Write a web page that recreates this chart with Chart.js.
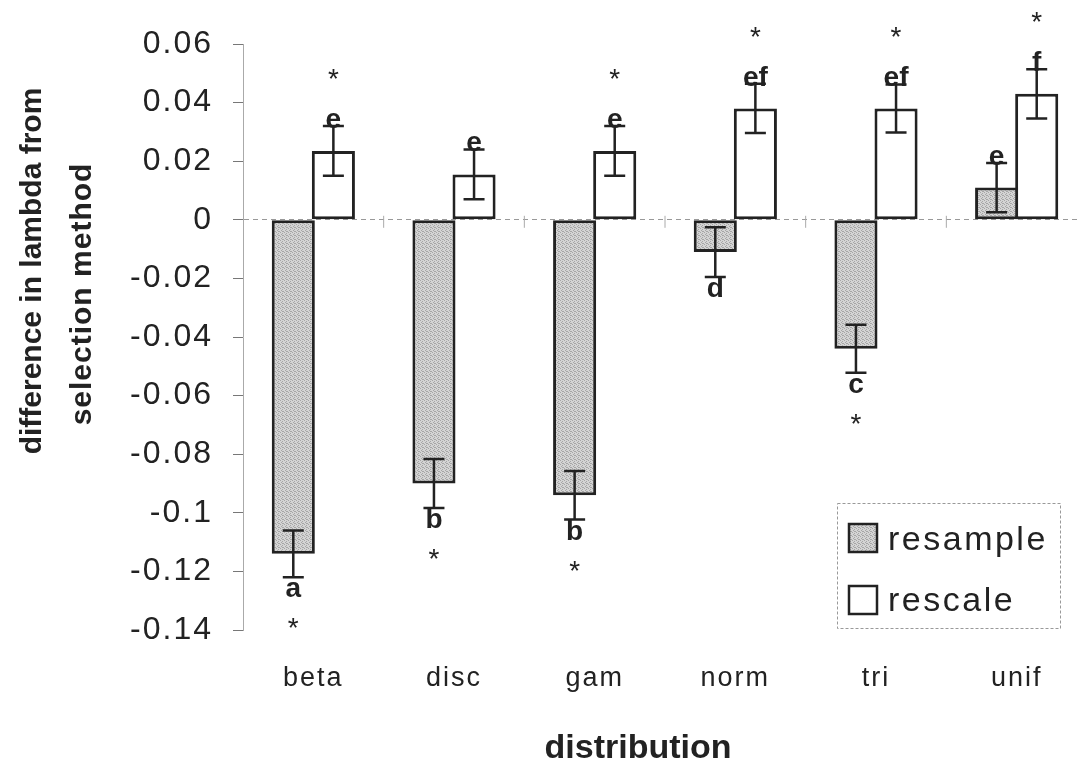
<!DOCTYPE html>
<html>
<head>
<meta charset="utf-8">
<script src="https://cdn.jsdelivr.net/npm/chart.js@4.4.0/dist/chart.umd.min.js"></script>
<style>
  html, body { margin: 0; padding: 0; background: #fff; overflow: hidden; }
  #chart { display: block; }
</style>
</head>
<body>
<canvas id="chart" width="1090" height="764"></canvas>
<script>
// Distributions on the x axis
const distributions = ['beta', 'disc', 'gam', 'norm', 'tri', 'unif'];

// Mean difference in lambda for each selection method
const resampleValues = [-0.114, -0.090, -0.094, -0.011, -0.044, 0.011];
const rescaleValues = [0.0235, 0.0155, 0.0235, 0.038, 0.038, 0.043];

// Half length of each error bar
const resampleErrors = [0.008, 0.0084, 0.0083, 0.0085, 0.0082, 0.0084];
const rescaleErrors = [0.0085, 0.0085, 0.0085, 0.0084, 0.0082, 0.0084];

// Group letters and significance stars above / below the bars
const resampleLetters = ['a', 'b', 'b', 'd', 'c', 'e'];
const rescaleLetters = ['e', 'e', 'e', 'ef', 'ef', 'f'];
const resampleStars = [true, true, true, false, true, false];
const rescaleStars = [true, false, true, true, true, true];

// Y axis ticks
const yTickValues = [-0.14, -0.12, -0.1, -0.08, -0.06, -0.04, -0.02, 0, 0.02, 0.04, 0.06];
const yTickLabels = ['-0.14', '-0.12', '-0.1', '-0.08', '-0.06', '-0.04', '-0.02', '0', '0.02', '0.04', '0.06'];

const FONT = '"Liberation Sans", Arial, sans-serif';
const INK = '#222';

const canvas = document.getElementById('chart');
const ctx = canvas.getContext('2d');

// Grey stipple fill like the printed figure
function stipple() {
    const c = document.createElement('canvas');
    c.width = 4;
    c.height = 4;
    const g = c.getContext('2d');
    g.fillStyle = '#d4d4d4';
    g.fillRect(0, 0, 4, 4);
    g.fillStyle = '#a6a6a6';
    [[0, 0], [2, 1], [1, 2], [3, 3], [2, 3]].forEach(([x, y]) => g.fillRect(x, y, 1, 1));
    return ctx.createPattern(c, 'repeat');
}
const resampleFill = stipple();

// Wider letter spacing for the axis tick labels, as in the scan
const spacing = {
    id: 'spacing',
    beforeDraw(chart) { chart.ctx.letterSpacing = '2px'; },
    beforeDatasetsDraw(chart) { chart.ctx.letterSpacing = '0px'; }
};

// Error bars, letters and stars drawn from the bar elements
const annotations = {
    id: 'annotations',
    afterDatasetsDraw(chart) {
        const { ctx, scales: { y } } = chart;
        const series = [
            { values: resampleValues, errors: resampleErrors, letters: resampleLetters, stars: resampleStars },
            { values: rescaleValues, errors: rescaleErrors, letters: rescaleLetters, stars: rescaleStars }
        ];
        series.forEach((s, d) => {
            chart.getDatasetMeta(d).data.forEach((bar, i) => {
                const v = s.values[i];
                const e = s.errors[i];
                const hi = y.getPixelForValue(v + e);
                const lo = y.getPixelForValue(v - e);
                ctx.save();
                ctx.strokeStyle = INK;
                ctx.lineWidth = 2.5;
                ctx.beginPath();
                ctx.moveTo(bar.x, hi);
                ctx.lineTo(bar.x, lo);
                ctx.moveTo(bar.x - 10.5, hi);
                ctx.lineTo(bar.x + 10.5, hi);
                ctx.moveTo(bar.x - 10.5, lo);
                ctx.lineTo(bar.x + 10.5, lo);
                ctx.stroke();

                const up = v >= 0;
                ctx.fillStyle = INK;
                ctx.textAlign = 'center';
                ctx.textBaseline = 'alphabetic';
                ctx.font = 'bold 28px ' + FONT;
                ctx.fillText(s.letters[i], bar.x, up ? hi + 2 : lo + 20);
                if (s.stars[i]) {
                    ctx.font = '28px ' + FONT;
                    ctx.fillText('*', bar.x, up ? hi - 54 + 16 : lo + 44 + 16);
                }
                ctx.restore();
            });
        });
    }
};

// Axis titles, legend box and the small category marks on the zero line
const decorations = {
    id: 'decorations',
    afterDraw(chart) {
        const { ctx, scales: { x, y } } = chart;
        ctx.save();

        // category separators on the zero line
        const y0 = y.getPixelForValue(0);
        const half = (x.getPixelForValue(1) - x.getPixelForValue(0)) / 2;
        ctx.strokeStyle = '#aaa';
        ctx.lineWidth = 1;
        distributions.forEach((_, i) => {
            const px = x.getPixelForValue(i) + half;
            ctx.beginPath();
            ctx.moveTo(px, y0 - 4);
            ctx.lineTo(px, y0 + 8);
            ctx.stroke();
        });

        // y title (two lines)
        ctx.fillStyle = INK;
        ctx.font = 'bold 30px ' + FONT;
        ctx.textAlign = 'center';
        ctx.textBaseline = 'alphabetic';
        ctx.save();
        ctx.translate(41, 271);
        ctx.rotate(-Math.PI / 2);
        ctx.fillText('difference in lambda from', 0, 0);
        ctx.restore();
        ctx.save();
        ctx.translate(91, 294);
        ctx.rotate(-Math.PI / 2);
        ctx.letterSpacing = '1px';
        ctx.fillText('selection method', 0, 0);
        ctx.restore();

        // x title
        ctx.font = 'bold 34px ' + FONT;
        ctx.fillText('distribution', 638, 758);

        // legend
        ctx.strokeStyle = '#999';
        ctx.lineWidth = 1;
        ctx.setLineDash([3, 2]);
        ctx.strokeRect(837.5, 503.5, 223, 125);
        ctx.setLineDash([]);
        const items = [
            { label: 'resample', fill: resampleFill, top: 524, base: 550 },
            { label: 'rescale', fill: '#fff', top: 586, base: 611 }
        ];
        ctx.font = '34px ' + FONT;
        ctx.textAlign = 'left';
        ctx.letterSpacing = '2.5px';
        items.forEach(it => {
            ctx.fillStyle = it.fill;
            ctx.fillRect(849, it.top, 28, 28);
            ctx.strokeStyle = INK;
            ctx.lineWidth = 2.5;
            ctx.strokeRect(849, it.top, 28, 28);
            ctx.fillStyle = INK;
            ctx.fillText(it.label, 888, it.base);
        });
        ctx.restore();
    }
};

new Chart(ctx, {
    type: 'bar',
    data: {
        labels: distributions,
        datasets: [{
            label: 'resample',
            data: resampleValues,
            backgroundColor: resampleFill,
            borderColor: INK,
            borderWidth: 3,
            borderSkipped: false
        }, {
            label: 'rescale',
            data: rescaleValues,
            backgroundColor: '#fff',
            borderColor: INK,
            borderWidth: 3,
            borderSkipped: false
        }]
    },
    options: {
        responsive: false,
        animation: false,
        categoryPercentage: 0.57,
        barPercentage: 1.075,
        layout: { padding: { top: 44, right: 3, left: 0, bottom: 0 } },
        plugins: {
            legend: { display: false },
            tooltip: { enabled: false }
        },
        scales: {
            x: {
                grid: { display: false, drawTicks: false },
                border: { display: false },
                ticks: {
                    color: INK,
                    font: { family: FONT, size: 27 },
                    padding: 32
                },
                afterFit(scale) { scale.height = 134; }
            },
            y: {
                min: -0.14,
                max: 0.06,
                afterBuildTicks(scale) {
                    scale.ticks = yTickValues.map(value => ({ value }));
                },
                grid: {
                    color: c => (c.tick && c.tick.value === 0 ? '#999' : 'rgba(0,0,0,0)'),
                    tickColor: '#777',
                    tickLength: 10,
                    lineWidth: 1
                },
                border: { color: '#aaa', width: 1, dash: [5, 4] },
                ticks: {
                    color: INK,
                    font: { family: FONT, size: 32 },
                    padding: 20,
                    callback: (value, index) => yTickLabels[index]
                },
                afterFit(scale) { scale.width = 243; }
            }
        }
    },
    plugins: [spacing, annotations, decorations]
});
</script>
</body>
</html>
